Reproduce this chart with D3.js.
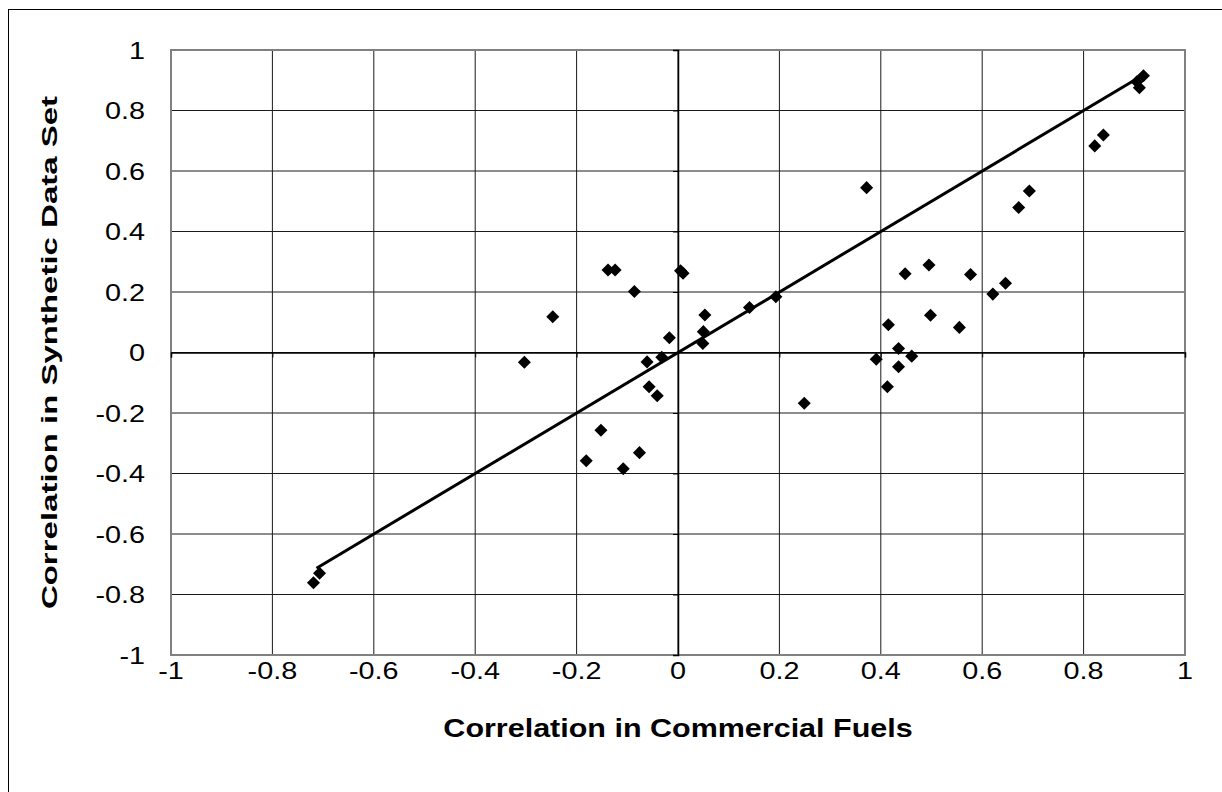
<!DOCTYPE html>
<html>
<head>
<meta charset="utf-8">
<script src="https://cdn.jsdelivr.net/npm/d3@7"></script>
<style>
  html, body { margin: 0; padding: 0; background: #fff; }
  svg { display: block; font-family: "Liberation Sans", Arial, sans-serif; }
</style>
</head>
<body>
<svg id="chart" width="1222" height="792"></svg>
<script>
// Pairwise correlations: commercial fuels (x) vs. synthetic data set (y)
const commercial = [
  -0.138, -0.124, 0.005, 0.010, -0.086, -0.247, -0.303, 0.053, 0.050, 0.049,
  -0.017, 0.141, 0.193, -0.061, -0.032, -0.057, -0.041, -0.152, -0.181, -0.108,
  -0.076, 0.415, 0.555, 0.435, 0.391, 0.461, 0.435, 0.413, 0.498, 0.372,
  0.693, 0.672, 0.839, 0.822, 0.918, 0.910, 0.905, 0.495, 0.448, 0.577,
  0.646, 0.621, 0.249, -0.707, -0.719
];
const synthetic = [
  0.273, 0.273, 0.270, 0.262, 0.202, 0.118, -0.032, 0.124, 0.069, 0.030,
  0.049, 0.149, 0.184, -0.031, -0.016, -0.113, -0.143, -0.257, -0.358, -0.384,
  -0.331, 0.092, 0.083, 0.013, -0.022, -0.012, -0.047, -0.113, 0.123, 0.545,
  0.534, 0.479, 0.719, 0.683, 0.915, 0.875, 0.895, 0.289, 0.260, 0.258,
  0.229, 0.193, -0.168, -0.730, -0.761
];
// Reference line y = x spanning the range of the data
const lineX = [-0.713, 0.915];
const lineY = [-0.713, 0.915];

const xTicks = [-1, -0.8, -0.6, -0.4, -0.2, 0, 0.2, 0.4, 0.6, 0.8, 1];
const yTicks = [-1, -0.8, -0.6, -0.4, -0.2, 0, 0.2, 0.4, 0.6, 0.8, 1];
const xTitle = "Correlation in Commercial Fuels";
const yTitle = "Correlation in Synthetic Data Set";

const svg = d3.select("#chart");
const plot = { left: 171, top: 50, right: 1185, bottom: 655 };

const x = d3.scaleLinear().domain([-1, 1]).range([plot.left, plot.right]);
const y = d3.scaleLinear().domain([-1, 1]).range([plot.bottom, plot.top]);

// Outer chart frame
svg.append("rect")
  .attr("x", 8.5).attr("y", 9.5)
  .attr("width", 1240).attr("height", 800)
  .attr("fill", "none").attr("stroke", "#000").attr("stroke-width", 1);

// Gridlines
const grid = svg.append("g");
grid.selectAll("line.v").data(xTicks).join("line")
  .attr("x1", d => x(d)).attr("x2", d => x(d))
  .attr("y1", plot.top).attr("y2", plot.bottom)
  .attr("stroke", "#1a1a1a").attr("stroke-width", 1);
grid.selectAll("line.h").data(yTicks).join("line")
  .attr("x1", plot.left).attr("x2", plot.right)
  .attr("y1", d => y(d)).attr("y2", d => y(d))
  .attr("stroke", "#1a1a1a").attr("stroke-width", 1);

// Plot area border
svg.append("rect")
  .attr("x", plot.left).attr("y", plot.top)
  .attr("width", plot.right - plot.left).attr("height", plot.bottom - plot.top)
  .attr("fill", "none").attr("stroke", "#808080").attr("stroke-width", 2);

// Zero axes with small tick marks
const xAxis = d3.axisBottom(x).tickValues(xTicks).tickSize(5).tickFormat("");
svg.append("g").attr("transform", `translate(0,${y(0)})`).call(xAxis)
  .call(g => g.select(".domain").attr("stroke", "#000").attr("stroke-width", 1.5))
  .call(g => g.selectAll(".tick line").attr("stroke", "#000"));
const yAxis = d3.axisLeft(y).tickValues(yTicks).tickSize(5).tickFormat("");
svg.append("g").attr("transform", `translate(${x(0)},0)`).call(yAxis)
  .call(g => g.select(".domain").attr("stroke", "#000").attr("stroke-width", 1.5))
  .call(g => g.selectAll(".tick line").attr("stroke", "#000"));

// Tick labels (slightly widened glyphs)
const fmt = d => String(d);
svg.append("g").selectAll("text").data(xTicks).join("text")
  .attr("transform", d => `translate(${x(d)},${plot.bottom + 24}) scale(1.2,1)`)
  .attr("text-anchor", "middle").attr("font-size", 24).attr("fill", "#000")
  .text(fmt);
svg.append("g").selectAll("text").data(yTicks).join("text")
  .attr("transform", d => `translate(145,${y(d) + 8.5}) scale(1.2,1)`)
  .attr("text-anchor", "end").attr("font-size", 24).attr("fill", "#000")
  .text(fmt);

// Axis titles
svg.append("text")
  .attr("transform", `translate(${(plot.left + plot.right) / 2},737) scale(1.22,1)`)
  .attr("text-anchor", "middle").attr("font-size", 25).attr("font-weight", "bold")
  .text(xTitle);
svg.append("text")
  .attr("transform", `translate(57,${(plot.top + plot.bottom) / 2}) rotate(-90) scale(1.5,1)`)
  .attr("text-anchor", "middle").attr("font-size", 22).attr("font-weight", "bold")
  .text(yTitle);

// Reference line
svg.append("path")
  .datum(d3.zip(lineX, lineY))
  .attr("d", d3.line().x(d => x(d[0])).y(d => y(d[1])))
  .attr("fill", "none").attr("stroke", "#000").attr("stroke-width", 3);

// Diamond markers
const diamond = d3.symbol().type(d3.symbolSquare).size(85);
svg.append("g").selectAll("path").data(d3.zip(commercial, synthetic)).join("path")
  .attr("d", diamond)
  .attr("transform", d => `translate(${x(d[0])},${y(d[1])}) rotate(45)`)
  .attr("fill", "#000");
</script>
</body>
</html>
